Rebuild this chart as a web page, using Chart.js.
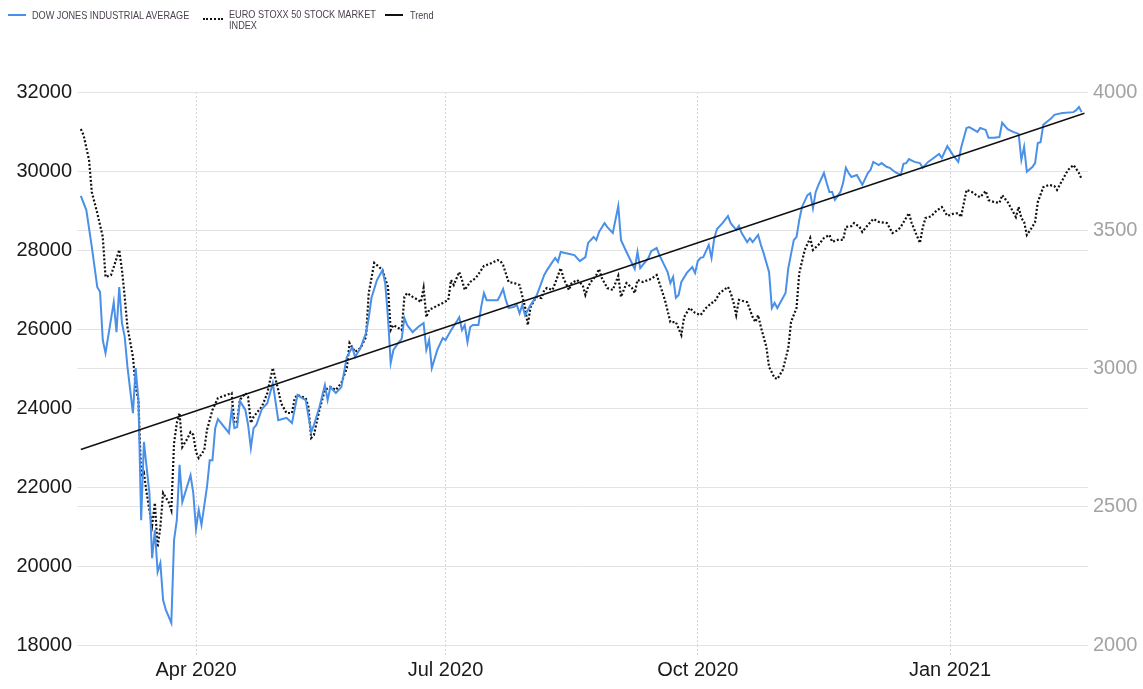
<!DOCTYPE html>
<html>
<head>
<meta charset="utf-8">
<script src="https://cdn.jsdelivr.net/npm/chart.js@4.4.1/dist/chart.umd.min.js"></script>
<style>
  body { margin: 0; background: #fff; }
  #wrap { position: relative; width: 1143px; height: 689px; }
  #legend { position: absolute; left: 0; top: 0; width: 600px; height: 40px;
            font-family: 'Liberation Sans', sans-serif;
            font-size: 11px; line-height: 11px; color: #4d4050; }
  .txt { position: absolute; white-space: nowrap; transform: scaleX(0.83); transform-origin: 0 0; }
  .sw { position: absolute; height: 0; }
</style>
</head>
<body>
<div id="wrap">
  <canvas id="chart"></canvas>
  <div id="legend">
    <div class="sw" style="left:8px; top:14px; width:18px; border-top:2px solid #4a90e8;"></div>
    <div class="txt" style="left:32px; top:10px;">DOW JONES INDUSTRIAL AVERAGE</div>
    <div class="sw" style="left:203px; top:18px; width:20px; border-top:2px dotted #111;"></div>
    <div class="txt" style="left:229px; top:9px;">EURO STOXX 50 STOCK MARKET<br>INDEX</div>
    <div class="sw" style="left:385px; top:14px; width:18px; border-top:2px solid #111;"></div>
    <div class="txt" style="left:410px; top:10px;">Trend</div>
  </div>
</div>
<script>
'use strict';

// x values are days counted from 19 Feb 2020
const tickDays = [42, 133, 225, 317];
const tickLabels = ['Apr 2020', 'Jul 2020', 'Oct 2020', 'Jan 2021'];

const dowDays = [
  0, 2, 4, 6, 7, 8, 9, 12, 13, 14, 15, 16, 17, 19, 20, 21, 22, 23, 25, 26,
  27, 28, 29, 30, 31, 33, 34, 35, 36, 37, 40, 41, 42, 43, 44, 46, 47, 48, 49, 50,
  54, 55, 56, 57, 58, 60, 61, 62, 63, 64, 66, 68, 70, 72, 75, 77, 79, 80, 82, 84,
  85, 87, 89, 90, 91, 93, 95, 96, 97, 99, 100, 102, 104, 105, 106, 108, 110, 111, 112, 113,
  114, 116, 117, 118, 119, 121, 123, 125, 126, 127, 128, 130, 132, 133, 135, 137, 138, 139, 140, 141,
  142, 143, 145, 146, 147, 148, 150, 152, 153, 154, 155, 156, 158, 159, 160, 161, 162, 164, 166, 167,
  169, 170, 172, 173, 174, 175, 177, 180, 182, 184, 185, 187, 188, 189, 191, 192, 194, 196, 197, 199,
  202, 203, 204, 207, 208, 210, 211, 214, 215, 216, 217, 218, 219, 221, 223, 224, 225, 226, 227, 229,
  230, 231, 232, 234, 236, 237, 239, 240, 241, 243, 244, 245, 247, 248, 249, 251, 252, 253, 254, 257,
  258, 260, 261, 262, 263, 265, 266, 267, 268, 269, 271, 272, 273, 274, 275, 277, 278, 279, 280, 281,
  283, 285, 287, 288, 289, 291, 292, 294, 295, 297, 299, 300, 301, 302, 304, 306, 307, 309, 310, 313,
  314, 316, 318, 320, 321, 323, 324, 327, 328, 330, 331, 333, 335, 336, 338, 340, 342, 343, 344, 345,
  347, 348, 349, 350, 351, 354, 355, 356, 358, 362, 363, 364, 365
];
const dowValues = [
  29370, 29010, 28080, 27060, 26940, 25720, 25390, 26680, 25920, 27060, 26150, 25800, 25040, 23870, 25010, 24200, 21160, 23140, 21850, 20200,
  20910, 19850, 20080, 19140, 18890, 18560, 20660, 21160, 22560, 21620, 22300, 21850, 20940, 21420, 21040, 22000, 22680, 22680, 23490, 23720,
  23370, 23950, 23490, 23520, 24180, 23950, 23570, 22990, 23490, 23570, 23970, 24120, 24630, 23690, 23750, 23620, 24330, 24280, 24200, 23390,
  23570, 24020, 24580, 24200, 24530, 24380, 24530, 24910, 25290, 25540, 25290, 25520, 25900, 26280, 26790, 27240, 27490, 27160, 26300, 25140,
  25470, 25670, 25750, 26280, 26100, 25920, 26050, 26150, 25470, 25720, 25010, 25470, 25770, 25720, 25970, 26180, 26300, 25970, 26100, 25670,
  26050, 26100, 26100, 26560, 26910, 26730, 26730, 26730, 26860, 27010, 26730, 26530, 26560, 26610, 26400, 26610, 26350, 26610, 26810, 26990,
  27370, 27490, 27700, 27800, 27700, 27950, 27920, 27870, 27720, 27820, 28180, 28330, 28250, 28460, 28680, 28580, 28430, 29110, 28250, 27950,
  27520, 27950, 27540, 27800, 27970, 28050, 27870, 27440, 27160, 27320, 26790, 26860, 27190, 27420, 27570, 27420, 27720, 27800, 27820, 28130,
  27800, 28300, 28530, 28680, 28860, 28680, 28510, 28610, 28430, 28200, 28300, 28200, 28380, 28130, 27920, 27440, 26530, 26660, 26530, 26910,
  27540, 28250, 28330, 28760, 29090, 29390, 29440, 29060, 29470, 29650, 29950, 29700, 29470, 29470, 29270, 29470, 29700, 30080, 29950, 29850,
  29900, 29650, 29950, 30030, 30230, 30150, 30200, 30100, 30080, 29970, 29900, 30180, 30200, 30300, 30230, 30200, 30080, 30230, 30280, 30430,
  30330, 30630, 30410, 30230, 30580, 31090, 31110, 30990, 31090, 31040, 30840, 30840, 30860, 31220, 31060, 30990, 30940, 30280, 30610, 29980,
  30100, 30200, 30710, 30730, 31170, 31340, 31420, 31440, 31470, 31490, 31540, 31620, 31490
];

const euroDays = [
  0, 1, 3, 4, 6, 8, 9, 11, 12, 14, 15, 16, 17, 19, 20, 21, 22, 23, 24, 25,
  26, 27, 28, 29, 30, 32, 33, 34, 35, 36, 37, 39, 40, 41, 42, 43, 45, 46, 48, 50,
  53, 55, 56, 57, 58, 60, 61, 62, 63, 65, 66, 68, 70, 72, 73, 75, 77, 78, 79, 82,
  83, 84, 85, 87, 89, 91, 93, 95, 97, 98, 100, 102, 104, 105, 107, 108, 110, 112, 113, 114,
  117, 118, 119, 121, 123, 124, 125, 126, 127, 129, 132, 134, 135, 136, 138, 139, 140, 142, 144, 146,
  147, 149, 152, 153, 154, 156, 158, 160, 162, 163, 164, 166, 168, 169, 170, 172, 173, 175, 176, 178,
  179, 181, 183, 184, 185, 186, 188, 189, 190, 192, 194, 196, 197, 199, 201, 202, 203, 205, 208, 210,
  211, 213, 215, 217, 219, 220, 222, 224, 226, 228, 230, 231, 233, 236, 237, 238, 239, 240, 243, 245,
  246, 247, 248, 250, 251, 253, 254, 256, 258, 259, 261, 262, 264, 266, 267, 269, 271, 273, 274, 276,
  278, 279, 281, 282, 284, 285, 287, 289, 291, 294, 296, 298, 299, 302, 303, 306, 307, 308, 310, 312,
  314, 316, 318, 320, 321, 323, 325, 327, 328, 330, 331, 333, 335, 336, 338, 340, 341, 342, 343, 344,
  345, 347, 348, 349, 351, 353, 355, 356, 358, 360, 362, 363, 364, 365
];
const euroValues = [
  3866, 3844, 3754, 3638, 3562, 3476, 3331, 3338, 3367, 3429, 3356, 3259, 3150, 3042, 2933, 2886, 2608, 2622, 2550, 2488,
  2434, 2514, 2354, 2427, 2550, 2517, 2488, 2730, 2803, 2839, 2716, 2749, 2770, 2760, 2698, 2676, 2705, 2778, 2850, 2893,
  2904, 2911, 2803, 2807, 2886, 2911, 2897, 2803, 2825, 2850, 2861, 2911, 3002, 2922, 2875, 2839, 2839, 2893, 2904, 2893,
  2861, 2749, 2760, 2850, 2922, 2933, 2922, 2948, 3002, 3092, 3060, 3074, 3114, 3273, 3382, 3374, 3356, 3295, 3139, 3157,
  3139, 3259, 3273, 3259, 3248, 3240, 3291, 3186, 3212, 3222, 3237, 3248, 3320, 3302, 3349, 3320, 3284, 3313, 3327, 3356,
  3371, 3378, 3392, 3389, 3374, 3313, 3309, 3302, 3222, 3157, 3222, 3259, 3255, 3284, 3291, 3284, 3309, 3363, 3327, 3284,
  3309, 3320, 3302, 3266, 3295, 3313, 3338, 3360, 3327, 3291, 3284, 3335, 3259, 3309, 3291, 3273, 3320, 3313, 3324, 3338,
  3309, 3248, 3168, 3168, 3121, 3186, 3219, 3201, 3193, 3219, 3237, 3240, 3273, 3295, 3273, 3240, 3193, 3248, 3240, 3186,
  3168, 3193, 3150, 3078, 3005, 2966, 2962, 2995, 3074, 3168, 3219, 3345, 3429, 3472, 3429, 3447, 3472, 3483, 3458, 3465,
  3465, 3512, 3515, 3526, 3512, 3494, 3519, 3541, 3530, 3526, 3490, 3501, 3512, 3562, 3526, 3454, 3508, 3544, 3550, 3570,
  3584, 3552, 3559, 3562, 3548, 3646, 3638, 3624, 3620, 3642, 3609, 3602, 3599, 3627, 3602, 3566, 3548, 3584, 3544, 3530,
  3483, 3512, 3530, 3602, 3656, 3664, 3660, 3646, 3682, 3718, 3736, 3722, 3707, 3685
];

const trendDays = [0, 366];
const trendValues = [22950, 31460];

function points(days, values) {
  return days.map((d, i) => ({ x: d, y: values[i] }));
}

const AXIS_FONT = "'Liberation Sans', Arial, sans-serif";

const config = {
  type: 'line',
  data: {
    datasets: [
      {
        label: 'Trend',
        data: points(trendDays, trendValues),
        yAxisID: 'y',
        borderColor: '#111111',
        borderWidth: 1.5,
        order: 0
      },
      {
        label: 'DOW JONES INDUSTRIAL AVERAGE',
        data: points(dowDays, dowValues),
        yAxisID: 'y',
        borderColor: '#4a90e8',
        borderWidth: 2,
        order: 1
      },
      {
        label: 'EURO STOXX 50 STOCK MARKET INDEX',
        data: points(euroDays, euroValues),
        yAxisID: 'y1',
        borderColor: '#111111',
        borderWidth: 2.2,
        borderDash: [2, 2],
        order: 2
      }
    ]
  },
  options: {
    responsive: true,
    maintainAspectRatio: false,
    animation: false,
    elements: {
      point: { radius: 0 },
      line: { tension: 0, fill: false }
    },
    layout: { padding: { top: 92, left: 0, right: 0, bottom: 0 } },
    plugins: {
      legend: { display: false },
      tooltip: { enabled: false }
    },
    scales: {
      x: {
        type: 'linear',
        min: -1.4,
        max: 367.3,
        afterBuildTicks: (scale) => {
          scale.ticks = tickDays.map(v => ({ value: v }));
        },
        afterFit: (scale) => { scale.height = 44; },
        ticks: {
          autoSkip: false,
          maxRotation: 0,
          padding: 3,
          color: '#1a1a1a',
          font: { family: AXIS_FONT, size: 20 },
          callback: (v) => tickLabels[tickDays.indexOf(v)]
        },
        grid: {
          color: '#d4d4d4',
          tickLength: 10,
          tickBorderDash: [2, 2]
        },
        border: { display: false, dash: [2, 2] }
      },
      y: {
        position: 'left',
        min: 18000,
        max: 32000,
        afterFit: (scale) => { scale.width = 77; },
        ticks: {
          stepSize: 2000,
          padding: 5,
          color: '#1a1a1a',
          font: { family: AXIS_FONT, size: 20 },
          callback: (v) => String(v)
        },
        grid: { color: '#e3e3e3', drawTicks: false },
        border: { display: false }
      },
      y1: {
        position: 'right',
        min: 2000,
        max: 4000,
        afterFit: (scale) => { scale.width = 55; },
        ticks: {
          stepSize: 500,
          padding: 5,
          color: '#a3a3a3',
          font: { family: AXIS_FONT, size: 20 },
          callback: (v) => String(v)
        },
        grid: { color: '#e3e3e3', drawTicks: false },
        border: { display: false }
      }
    }
  }
};

new Chart(document.getElementById('chart'), config);
</script>
</body>
</html>
